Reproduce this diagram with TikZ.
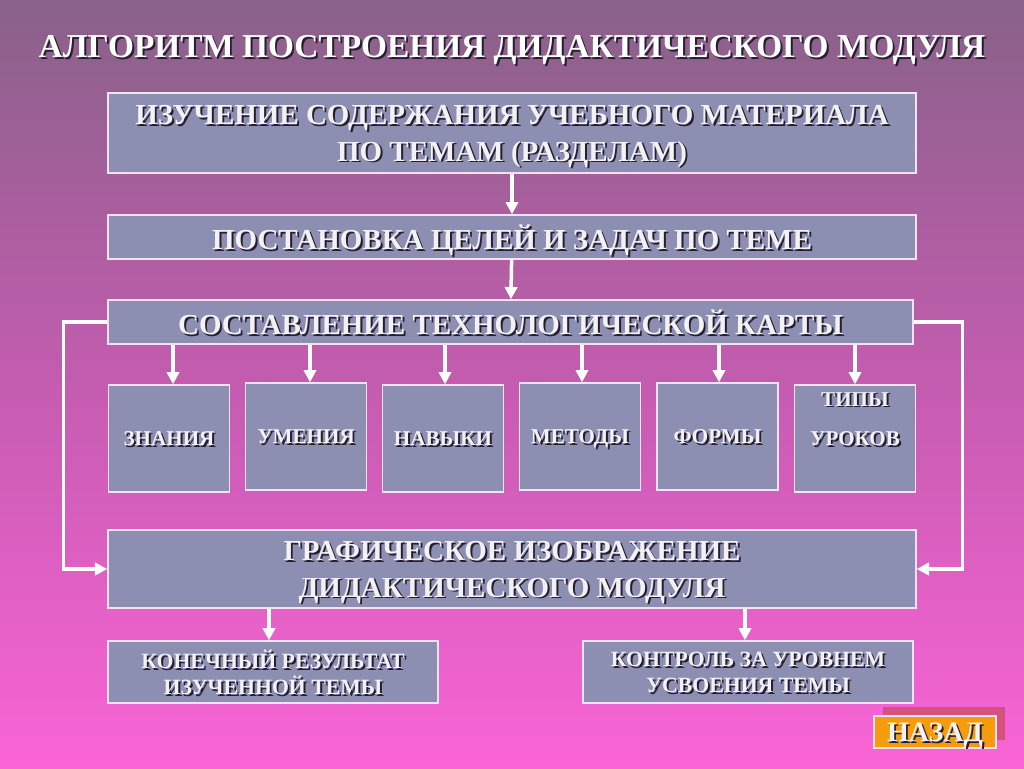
\documentclass[tikz,border=0pt]{standalone}
\usepackage{fontspec}
\setmainfont{Liberation Serif}
\usetikzlibrary{positioning}
\usetikzlibrary{arrows.meta}

\definecolor{bgtop}{RGB}{136,98,136}
\definecolor{bgmid}{RGB}{196,92,176}
\definecolor{bgbot}{RGB}{250,100,214}
\definecolor{boxfill}{RGB}{140,142,178}
\definecolor{boxline}{RGB}{244,226,244}
\definecolor{txtc}{RGB}{242,242,244}
\definecolor{txtshadow}{RGB}{38,30,48}
\definecolor{backfill}{RGB}{246,156,12}
\definecolor{backshadow}{RGB}{214,82,124}

\newcommand\px{0.02cm}
\newcommand\shd[1]{\makebox[0pt][l]{\hspace{1.1pt}\raisebox{-1.1pt}{\textcolor{txtshadow}{#1}}}#1}

\tikzset{
  box/.style={draw=boxline, fill=boxfill, line width=0.8pt, inner sep=0pt, text=txtc, align=center,
    text depth=0pt, font=\fontsize{16.5}{21}\bfseries},
  smallbox/.style={box, minimum width=121*\px, minimum height=107*\px, font=\fontsize{12}{14.4}\bfseries},
  lowbox/.style={box, minimum width=330*\px, minimum height=62*\px, font=\fontsize{12.4}{14.7}\bfseries},
  arr/.style={draw=white, line width=2pt, -{Triangle[length=7pt,width=7pt]}}
}

\begin{document}
\begin{tikzpicture}[x=\px, y=-\px]
\useasboundingbox (0,0) rectangle (1024,768);
\shade[top color=bgtop, bottom color=bgbot, middle color=bgmid] (0,0) rectangle (1024,768);

\node[text=white, font=\fontsize{19}{23}\bfseries] (title) at (512,51) {\shd{АЛГОРИТМ ПОСТРОЕНИЯ ДИДАКТИЧЕСКОГО МОДУЛЯ}};

\node[box, minimum width=808*\px, minimum height=80*\px] (study) at (512,133)
  {\shd{ИЗУЧЕНИЕ СОДЕРЖАНИЯ УЧЕБНОГО МАТЕРИАЛА}\\\shd{ПО ТЕМАМ (РАЗДЕЛАМ)}};
\node[box, minimum width=808*\px, minimum height=44*\px] (goals) at (512,237)
  {\shd{ПОСТАНОВКА ЦЕЛЕЙ И ЗАДАЧ ПО ТЕМЕ}};
\node[box, minimum width=805*\px, minimum height=44*\px] (tech) at (510.5,322)
  {\shd{СОСТАВЛЕНИЕ ТЕХНОЛОГИЧЕСКОЙ КАРТЫ}};

\node[smallbox] (know) at (169,438.5) {\shd{ЗНАНИЯ}};
\node[smallbox] (skill) at (306,436.5) {\shd{УМЕНИЯ}};
\node[smallbox] (habit) at (443,438.5) {\shd{НАВЫКИ}};
\node[smallbox] (method) at (580,436.5) {\shd{МЕТОДЫ}};
\node[smallbox] (form) at (717.5,436.5) {\shd{ФОРМЫ}};
\node[smallbox] (types) at (855,438.5) {\shd{ТИПЫ}\\[8pt]\shd{УРОКОВ}\\[8pt]\mbox{}};

\node[box, minimum width=808*\px, minimum height=78*\px] (graph) at (512,569)
  {\fontsize{16.5}{18.7}\selectfont\shd{ГРАФИЧЕСКОЕ ИЗОБРАЖЕНИЕ}\\\shd{ДИДАКТИЧЕСКОГО МОДУЛЯ}};

\node[lowbox] (result) at (273,672) {\shd{КОНЕЧНЫЙ РЕЗУЛЬТАТ}\\\shd{ИЗУЧЕННОЙ ТЕМЫ}};
\node[lowbox] (control) at (748,672) {\shd{КОНТРОЛЬ ЗА УРОВНЕМ}\\\shd{УСВОЕНИЯ ТЕМЫ}};

\fill[backshadow] (883,707) rectangle (1005,740);
\node[draw=boxline, fill=backfill, line width=0.6pt, minimum width=122*\px, minimum height=32*\px, inner sep=0pt,
  text depth=0pt, text=txtc, font=\fontsize{16}{18}\bfseries] (back) at (935,732) {\shd{НАЗАД}};

\draw[arr] (study) -- (goals);
\draw[arr] (goals) -- (tech);
\draw[arr] (tech.south -| 173,0) -- (know.north -| 173,0);
\draw[arr] (tech.south -| 310,0) -- (skill.north -| 310,0);
\draw[arr] (tech.south -| 445,0) -- (habit.north -| 445,0);
\draw[arr] (tech.south -| 582,0) -- (method.north -| 582,0);
\draw[arr] (tech.south -| 719,0) -- (form.north -| 719,0);
\draw[arr] (tech.south -| types) -- (types.north);
\draw[arr] (tech.west) -- ++(-44,0) |- (graph.west);
\draw[arr] (tech.east) -- ++(49,0) |- (graph.east);
\draw[arr] (graph.south -| 269,0) -- (result.north -| 269,0);
\draw[arr] (graph.south -| 745,0) -- (control.north -| 745,0);
\end{tikzpicture}
\end{document}
